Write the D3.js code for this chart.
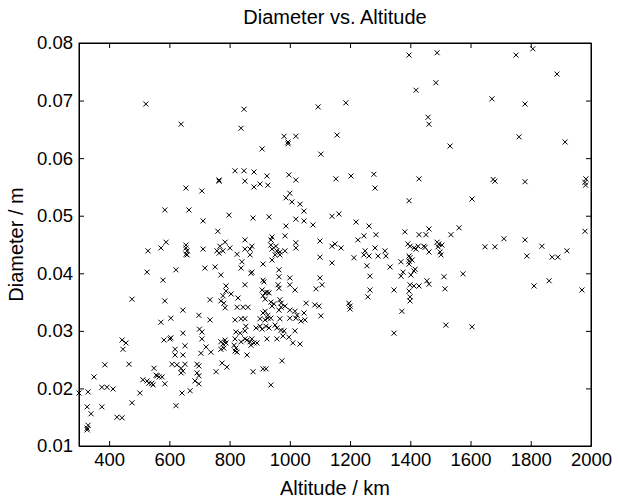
<!DOCTYPE html>
<html>
<head>
<meta charset="utf-8">
<script src="https://cdn.jsdelivr.net/npm/d3@7"></script>
<style>
  body { margin: 0; background: #fff; }
  svg text { font-family: "Liberation Sans", Arial, sans-serif; fill: #000; }
</style>
</head>
<body>
<svg id="chart" width="618" height="499"></svg>
<script>
// altitude (km) / diameter (m)
const altitude = [
  522, 639,
  848, 838, 981, 994, 994, 1020, 908, 1094, 1103, 818, 848, 881, 924, 997,
  1396, 1489, 1485, 1419, 1186, 1459, 1462, 1157, 1532, 1153, 1203, 1279, 1429,
  1751, 1807, 1887, 1671, 1781, 1761, 1914, 1675, 1983,
  1681, 1781, 1980, 1982, 1605, 1980, 1648, 1681, 1711, 1781, 1837, 1787, 1871, 1890, 1920, 1811, 1861, 1970,
  1605, 1346, 1518,
  1283, 1396, 1163, 1140, 1220, 1263, 1246, 1226, 1286, 1150, 1140, 1170, 1250, 1246, 1263, 1283, 1293, 1316, 1319,
  1213, 1256, 1333, 1266, 1140, 1266, 1259, 1346, 1196, 1200, 1200, 1372,
  1382, 1429, 1452, 1462, 1535, 1562,
  1392, 1399, 1412, 1419, 1426, 1445, 1449, 1462,
  1396, 1399, 1406, 1396,
  1489, 1495, 1505, 1492, 1499, 1502,
  1369, 1416, 1412, 1396, 1376, 1369, 1402, 1455, 1462, 1399, 1412, 1429, 1396, 1399, 1399, 1512, 1575, 1515,
  765, 765, 851, 901, 927, 881, 1020, 708, 1000, 987, 1007, 1034, 1047, 798, 878, 931, 1020, 1047, 1077, 712,
  761, 987, 984, 1100, 851, 941, 937, 1020, 1020, 785, 768, 801, 758, 765, 778, 712, 874, 851, 868, 825, 868,
  937, 941, 954, 957, 967, 984, 967, 951, 941, 1100, 841, 838, 718, 752, 911, 874, 871, 771, 964, 964, 1000,
  911, 914, 961, 964, 1000, 1017, 1100, 1107, 1087, 851, 788, 788, 805, 778, 771, 781, 785, 828, 735,
  908, 918, 924, 931, 911, 918, 937, 947, 941, 967, 971, 971, 984, 964, 1054, 1083, 1097, 1000, 1017, 1024, 1047,
  825, 845, 861, 918, 911, 927, 1103,
  655, 585, 665, 529, 572, 589, 655, 655, 659, 655, 659, 526, 622, 579, 476, 585, 645, 605, 698,
  572, 443, 456, 446, 582, 602, 605, 645, 619, 619, 645, 652, 386, 466, 609, 625, 639, 652, 645, 639,
  549, 692, 698, 692, 698, 350, 556, 566, 576, 559, 512, 526, 532, 542, 546, 585, 376, 393, 413,
  300, 330, 502, 669, 642, 327, 376, 476, 622, 340, 426, 443, 330, 327, 327, 685, 698,
  700, 708,
  735, 818, 838, 851, 901, 918, 927, 937, 967, 1000, 1020, 1037, 1050,
  821, 835, 854, 851, 888, 901, 908, 921, 931, 951, 957, 971, 981, 1017,
  708, 722, 738, 705, 771, 778, 785, 788, 771, 781, 818, 815, 821, 818, 825,
  838, 851, 858, 868, 874, 881, 891, 871, 924, 957, 977, 997, 1010, 1034,
  858, 775, 791, 755, 878, 911, 921, 974, 937
];
const diameter = [
  0.0694, 0.0659,
  0.0685, 0.0652, 0.0638, 0.0628, 0.0625, 0.0638, 0.0616, 0.0689, 0.0607, 0.0578, 0.0578, 0.0576, 0.0569, 0.0571,
  0.0779, 0.0783, 0.0731, 0.0718, 0.0696, 0.0671, 0.0659, 0.0640, 0.0621, 0.0564, 0.0569, 0.0572, 0.0564,
  0.0779, 0.0790, 0.0746, 0.0703, 0.0694, 0.0637, 0.0628, 0.0563, 0.0564,
  0.0560, 0.0559, 0.0558, 0.0553, 0.0529, 0.0473, 0.0446, 0.0446, 0.0460, 0.0458, 0.0447, 0.0430, 0.0428, 0.0428, 0.0439, 0.0378, 0.0387, 0.0371,
  0.0307, 0.0296, 0.0310,
  0.0548, 0.0526, 0.0503, 0.0499, 0.0489, 0.0482, 0.0465, 0.0458, 0.0467, 0.0451, 0.0447, 0.0444, 0.0439, 0.0432, 0.0430, 0.0444, 0.0430, 0.0439, 0.0430,
  0.0427, 0.0413, 0.0411, 0.0395, 0.0418, 0.0371, 0.0359, 0.0371, 0.0348, 0.0343, 0.0338, 0.0334,
  0.0472, 0.0467, 0.0467, 0.0477, 0.0467, 0.0479,
  0.0451, 0.0447, 0.0444, 0.0442, 0.0447, 0.0447, 0.0445, 0.0437,
  0.0430, 0.0427, 0.0423, 0.0421,
  0.0454, 0.0451, 0.0449, 0.0446, 0.0437, 0.0432,
  0.0420, 0.0407, 0.0404, 0.0416, 0.0402, 0.0395, 0.0397, 0.0387, 0.0381, 0.0380, 0.0378, 0.0378, 0.0369, 0.0359, 0.0352, 0.0394, 0.0399, 0.0373,
  0.0562, 0.0560, 0.0560, 0.0555, 0.0553, 0.0550, 0.0562, 0.0543, 0.0539, 0.0531, 0.0524, 0.0520, 0.0508, 0.0501, 0.0496, 0.0498, 0.0494, 0.0491, 0.0484, 0.0491,
  0.0473, 0.0482, 0.0465, 0.0456, 0.0458, 0.0463, 0.0458, 0.0453, 0.0444, 0.0454, 0.0447, 0.0444, 0.0439, 0.0435, 0.0439, 0.0442, 0.0447, 0.0442, 0.0442, 0.0433, 0.0432,
  0.0449, 0.0442, 0.0447, 0.0439, 0.0437, 0.0439, 0.0432, 0.0432, 0.0423, 0.0428, 0.0420, 0.0409, 0.0409, 0.0411, 0.0416, 0.0402, 0.0400, 0.0397, 0.0406, 0.0394, 0.0392,
  0.0388, 0.0385, 0.0380, 0.0374, 0.0380, 0.0371, 0.0392, 0.0380, 0.0373, 0.0380, 0.0378, 0.0369, 0.0364, 0.0361, 0.0352, 0.0348, 0.0340, 0.0357, 0.0354,
  0.0371, 0.0366, 0.0367, 0.0366, 0.0361, 0.0355, 0.0350, 0.0347, 0.0343, 0.0354, 0.0348, 0.0341, 0.0343, 0.0336, 0.0348, 0.0345, 0.0343, 0.0336, 0.0334, 0.0327, 0.0331,
  0.0341, 0.0341, 0.0341, 0.0334, 0.0331, 0.0327, 0.0326,
  0.0548, 0.0510, 0.0510, 0.0439, 0.0444, 0.0454, 0.0449, 0.0444, 0.0439, 0.0433, 0.0432, 0.0402, 0.0406, 0.0388, 0.0355, 0.0352, 0.0336, 0.0322, 0.0327,
  0.0315, 0.0284, 0.0279, 0.0268, 0.0284, 0.0286, 0.0288, 0.0296, 0.0268, 0.0258, 0.0258, 0.0274, 0.0241, 0.0242, 0.0242, 0.0241, 0.0235, 0.0242, 0.0230, 0.0227,
  0.0235, 0.0242, 0.0239, 0.0227, 0.0222, 0.0220, 0.0223, 0.0220, 0.0220, 0.0222, 0.0215, 0.0213, 0.0209, 0.0209, 0.0206, 0.0208, 0.0202, 0.0202, 0.0199,
  0.0192, 0.0194, 0.0192, 0.0196, 0.0192, 0.0168, 0.0168, 0.0175, 0.0170, 0.0156, 0.0150, 0.0149, 0.0136, 0.0131, 0.0128, 0.0213, 0.0208,
  0.0303, 0.0298,
  0.0319, 0.0319, 0.0321, 0.0321, 0.0321, 0.0319, 0.0322, 0.0322, 0.0321, 0.0322, 0.0322, 0.0317, 0.0319,
  0.0298, 0.0296, 0.0308, 0.0300, 0.0305, 0.0308, 0.0303, 0.0308, 0.0305, 0.0310, 0.0305, 0.0301, 0.0300, 0.0300,
  0.0286, 0.0272, 0.0263, 0.0261, 0.0281, 0.0277, 0.0284, 0.0279, 0.0268, 0.0270, 0.0286, 0.0275, 0.0270, 0.0265, 0.0263,
  0.0281, 0.0286, 0.0284, 0.0281, 0.0286, 0.0279, 0.0279, 0.0275, 0.0286, 0.0286, 0.0291, 0.0289, 0.0279, 0.0277,
  0.0258, 0.0244, 0.0237, 0.0229, 0.0229, 0.0234, 0.0234, 0.0248, 0.0206
];
const xTicks = [400, 600, 800, 1000, 1200, 1400, 1600, 1800, 2000];
const yTicks = [0.01, 0.02, 0.03, 0.04, 0.05, 0.06, 0.07, 0.08];

const width = 618, height = 499;
const margin = { top: 43, right: 27, bottom: 53, left: 79 };
const tickFont = 18.5, labelFont = 20;

const svg = d3.select("#chart");
const points = altitude.map((a, i) => ({ a: a, d: diameter[i] }));

const x = d3.scaleLinear().domain([300, 2000]).range([margin.left, width - margin.right]);
const y = d3.scaleLinear().domain([0.01, 0.08]).range([height - margin.bottom, margin.top]);

// ticks point inwards on all four sides, like a boxed matlab axes
svg.append("g")
    .attr("transform", `translate(0,${height - margin.bottom})`)
    .call(d3.axisBottom(x).tickValues(xTicks).tickSizeInner(-5).tickSizeOuter(0).tickPadding(7).tickFormat(d3.format("d")))
    .call(g => g.selectAll("text").style("font-size", tickFont + "px"));
svg.append("g")
    .attr("transform", `translate(0,${margin.top})`)
    .call(d3.axisTop(x).tickValues(xTicks).tickSizeInner(-5).tickSizeOuter(0).tickFormat(""));
svg.append("g")
    .attr("transform", `translate(${margin.left},0)`)
    .call(d3.axisLeft(y).tickValues(yTicks).tickSizeInner(-5).tickSizeOuter(0).tickPadding(6).tickFormat(d3.format(".2f")))
    .call(g => g.selectAll("text").style("font-size", tickFont + "px"));
svg.append("g")
    .attr("transform", `translate(${width - margin.right},0)`)
    .call(d3.axisRight(y).tickValues(yTicks).tickSizeInner(-5).tickSizeOuter(0).tickFormat(""));

svg.selectAll(".domain").attr("stroke", "#000");
svg.selectAll(".tick line").attr("stroke", "#000");

svg.append("rect")
    .attr("x", margin.left).attr("y", margin.top)
    .attr("width", width - margin.left - margin.right)
    .attr("height", height - margin.top - margin.bottom)
    .attr("fill", "none").attr("stroke", "#000").attr("stroke-width", 1);

const xMark = "M-2.5,-2.5L2.5,2.5M-2.5,2.5L2.5,-2.5";
svg.append("g").selectAll("path").data(points).enter().append("path")
    .attr("transform", d => `translate(${x(d.a)},${y(d.d)})`)
    .attr("d", xMark)
    .attr("fill", "none").attr("stroke", "#000").attr("stroke-width", 1);

svg.append("text")
    .attr("x", (margin.left + width - margin.right) / 2)
    .attr("y", 24)
    .attr("text-anchor", "middle")
    .style("font-size", labelFont + "px")
    .text("Diameter vs. Altitude");

svg.append("text")
    .attr("x", (margin.left + width - margin.right) / 2)
    .attr("y", 495)
    .attr("text-anchor", "middle")
    .style("font-size", labelFont + "px")
    .text("Altitude / km");

svg.append("text")
    .attr("transform", "rotate(-90)")
    .attr("x", -(margin.top + height - margin.bottom) / 2)
    .attr("y", 23)
    .attr("text-anchor", "middle")
    .style("font-size", labelFont + "px")
    .text("Diameter / m");
</script>
</body>
</html>
